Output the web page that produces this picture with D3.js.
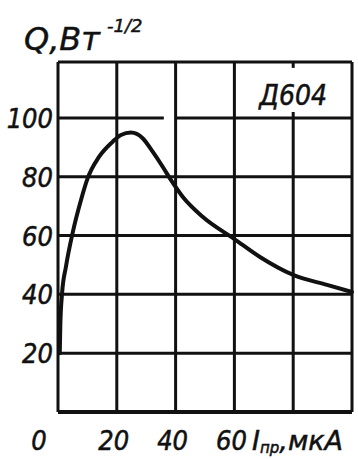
<!DOCTYPE html>
<html>
<head>
<meta charset="utf-8">
<script src="https://cdn.jsdelivr.net/npm/d3@7"></script>
<style>
  body { margin: 0; background: #fff; }
  text { font-family: "DejaVu Sans", sans-serif; font-stretch: condensed; font-style: oblique; fill: #111; stroke: #111; stroke-width: 0.5; }
</style>
</head>
<body>
<div id="chart"></div>
<script>
// forward current, uA
const current = [0.6, 0.8, 1.4, 2.7, 5, 7.8, 10.1, 14, 18.6, 21.4, 24.8, 28.8, 32.2, 35.6, 38.4, 42.4, 49.3, 60, 68.7, 80, 91.5, 100]
// Q, W^-1/2
const quality = [20, 30, 40.5, 49.4, 61, 72, 79.5, 86.8, 91.9, 94.2, 95, 93.1, 88.5, 83.4, 78.9, 73.2, 66.3, 58.8, 52.7, 46.6, 43.2, 40.8]

const xTicks = [0, 20, 40, 60, 80, 100]
const yTicks = [0, 20, 40, 60, 80, 100]
const xLabels = ['0', '20', '40', '60']
const yLabels = ['20', '40', '60', '80', '100']
const deviceName = 'Д604'

const width = 358, height = 459
const margin = { left: 58, right: 6, top: 62, bottom: 47 }

const svg = d3.select('#chart').append('svg')
  .attr('width', width)
  .attr('height', height)

const x = d3.scaleLinear().domain([0, 100]).range([margin.left, width - margin.right])
const y = d3.scaleLinear().domain([0, 119]).range([height - margin.bottom, margin.top])

const grid = svg.append('g').attr('stroke', '#111').attr('stroke-width', 3)

// vertical grid lines (the one at 80 is broken for the device label)
grid.selectAll('.vline')
  .data(xTicks.filter(d => d != 80))
  .join('line')
  .attr('x1', d => x(d)).attr('x2', d => x(d))
  .attr('y1', y(119)).attr('y2', y(0))

grid.append('line')
  .attr('x1', x(80)).attr('x2', x(80))
  .attr('y1', y(119)).attr('y2', y(117))
grid.append('line')
  .attr('x1', x(80)).attr('x2', x(80))
  .attr('y1', y(102)).attr('y2', y(0))

// horizontal grid lines
grid.selectAll('.hline')
  .data(yTicks.filter(d => d != 100))
  .join('line')
  .attr('x1', x(0)).attr('x2', x(100))
  .attr('y1', d => y(d)).attr('y2', d => y(d))

grid.append('line')
  .attr('x1', x(0)).attr('x2', x(36))
  .attr('y1', y(100)).attr('y2', y(100))
grid.append('line')
  .attr('x1', x(40)).attr('x2', x(100))
  .attr('y1', y(100)).attr('y2', y(100))

// top border
grid.append('line')
  .attr('x1', x(0)).attr('x2', x(100))
  .attr('y1', y(119)).attr('y2', y(119))

// bottom border a bit heavier
grid.append('line')
  .attr('x1', x(0)).attr('x2', x(100))
  .attr('y1', y(0)).attr('y2', y(0))
  .attr('stroke-width', 4)

const line = d3.line()
  .x(d => x(d[0]))
  .y(d => y(d[1]))
  .curve(d3.curveMonotoneX)

svg.append('path')
  .datum(d3.zip(current, quality))
  .attr('d', line)
  .attr('fill', 'none')
  .attr('stroke', '#111')
  .attr('stroke-width', 4)
  .attr('stroke-linecap', 'round')

// y tick labels
svg.selectAll('.ylab')
  .data(yLabels)
  .join('text')
  .attr('x', x(0) - 5)
  .attr('y', d => y(+d) + 10)
  .attr('text-anchor', 'end')
  .attr('font-size', 27)
  .text(d => d)

// x tick labels
svg.selectAll('.xlab')
  .data(xLabels)
  .join('text')
  .attr('x', d => d == '0' ? x(0) - 19 : x(+d) - 3)
  .attr('y', height - 9)
  .attr('text-anchor', 'middle')
  .attr('font-size', 27)
  .text(d => d)

// x axis title
const xt = svg.append('text')
  .attr('x', x(66))
  .attr('y', height - 9)
  .attr('font-size', 27)
  .style('font-stretch', 'normal')
xt.append('tspan').text('I')
xt.append('tspan').attr('font-size', 15).attr('dy', 3).text('пр')
xt.append('tspan').attr('dy', -3).text(',мкА')

// y axis title
const yt = svg.append('text')
  .attr('x', 24)
  .attr('y', 50)
  .attr('font-size', 32)
  .style('font-stretch', 'normal')
yt.append('tspan').text('Q,Вт')
yt.append('tspan').attr('font-size', 18).attr('dx', 7).attr('dy', -18).text('-1/2')

// device label
svg.append('text')
  .attr('x', x(80))
  .attr('y', y(104.5))
  .attr('text-anchor', 'middle')
  .attr('font-size', 28)
  .text(deviceName)
</script>
</body>
</html>
